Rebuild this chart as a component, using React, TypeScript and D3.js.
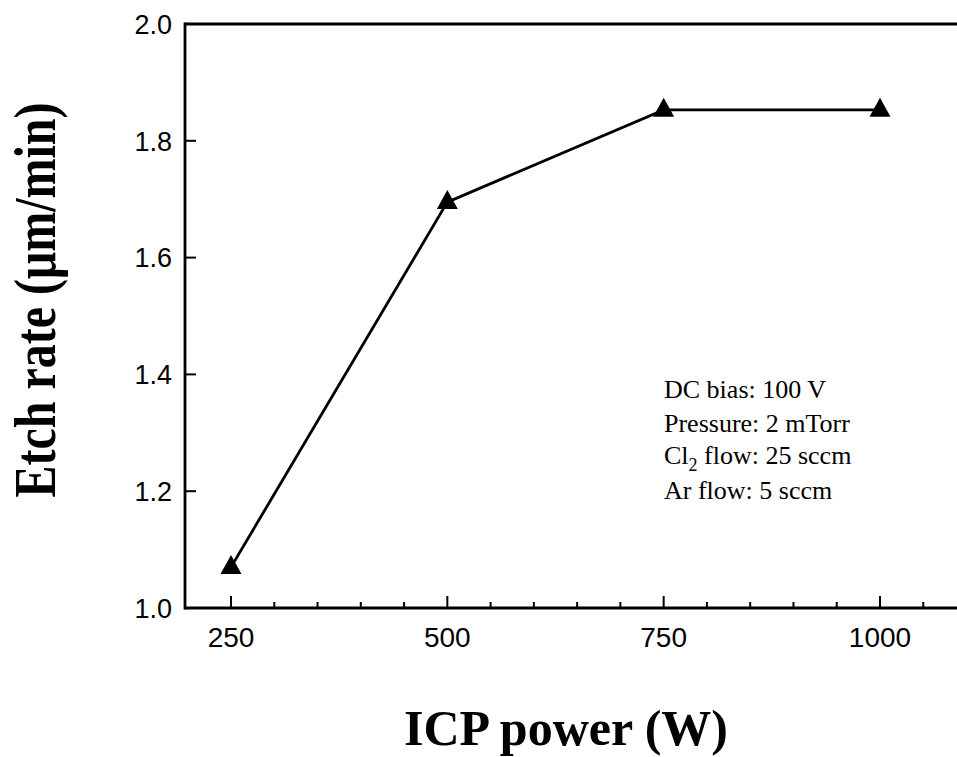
import React from "react";
import * as d3 from "d3";

const powers = [250, 500, 750, 1000];
const etchRates = [1.07, 1.695, 1.853, 1.853];
const xTickValues = [250, 500, 750, 1000];
const yTickValues = [1.0, 1.2, 1.4, 1.6, 1.8, 2.0];
const conditions = ["DC bias: 100 V", "Pressure: 2 mTorr", "flow: 25 sccm", "Ar flow: 5 sccm"];

const W = 957;
const H = 757;

export default function App() {
  const x = d3.scaleLinear().domain([250, 1000]).range([231, 880]);
  const y = d3.scaleLinear().domain([1.0, 2.0]).range([608, 24]);
  const left = 185;
  const right = 960;
  const minor = d3.range(200, 1100, 50).filter((v) => x(v) > left + 5 && x(v) < W && v % 250 !== 0);
  const line = d3.line<number>().x((_, i) => x(powers[i])).y((d) => y(d));
  const tri = "M0,-12L10.5,7L-10.5,7Z";
  const serif = "'Liberation Serif', 'Times New Roman', serif";
  const sans = "'Liberation Sans', Arial, sans-serif";
  return (
    <svg width={W} height={H} style={{ position: "absolute", left: 0, top: 0, background: "#fff" }}>
      <rect width={W} height={H} fill="#fff" />
      {/* frame */}
      <line x1={left} x2={right} y1={y(2.0)} y2={y(2.0)} stroke="#000" strokeWidth={2.8} />
      <line x1={left} x2={right} y1={y(1.0)} y2={y(1.0)} stroke="#000" strokeWidth={2.8} />
      <line x1={left} x2={left} y1={y(2.0) - 1.4} y2={y(1.0) + 1.4} stroke="#000" strokeWidth={2.8} />
      {/* y ticks */}
      {yTickValues.map((v) => (
        <g key={v}>
          {v > 1.0 && v < 2.0 && (
            <line x1={left} x2={left + 11} y1={y(v)} y2={y(v)} stroke="#000" strokeWidth={2} />
          )}
          <text x={172} y={y(v)} dy="0.36em" textAnchor="end" fontFamily={sans} fontSize={27} fill="#000">
            {v.toFixed(1)}
          </text>
        </g>
      ))}
      {/* x ticks */}
      {xTickValues.map((v) => (
        <g key={v}>
          <line x1={x(v)} x2={x(v)} y1={y(1.0)} y2={y(1.0) - 12} stroke="#000" strokeWidth={2} />
          <text x={x(v)} y={647} textAnchor="middle" fontFamily={sans} fontSize={28} fill="#000">
            {v}
          </text>
        </g>
      ))}
      {minor.map((v) => (
        <line key={v} x1={x(v)} x2={x(v)} y1={y(1.0)} y2={y(1.0) - 6} stroke="#000" strokeWidth={2} />
      ))}
      {/* data line */}
      <path d={line(etchRates) || ""} fill="none" stroke="#000" strokeWidth={2.8} />
      {etchRates.map((v, i) => (
        <path key={i} d={tri} transform={`translate(${x(powers[i])},${y(v)})`} fill="#000" />
      ))}
      {/* annotation */}
      <g fontFamily={serif} fontSize={26} fill="#000">
        <text x={664} y={398}>{conditions[0]}</text>
        <text x={664} y={432}>{conditions[1]}</text>
        <text x={664} y={464}>
          Cl<tspan dy={7} fontSize={18}>2</tspan>
          <tspan dy={-7}> {conditions[2]}</tspan>
        </text>
        <text x={664} y={499}>{conditions[3]}</text>
      </g>
      {/* axis titles */}
      <text
        transform={`translate(55,300) rotate(-90) scale(1,1.25)`}
        textAnchor="middle"
        fontFamily={serif}
        fontWeight="bold"
        fontSize={48}
        fill="#000"
      >
        Etch rate (μm/min)
      </text>
      <text x={566} y={745} textAnchor="middle" fontFamily={serif} fontWeight="bold" fontSize={50} fill="#000">
        ICP power (W)
      </text>
    </svg>
  );
}
